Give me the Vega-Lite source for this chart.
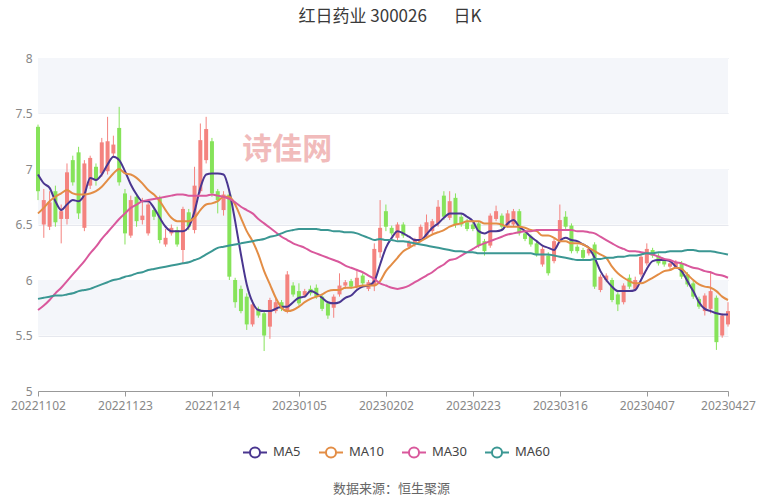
{
  "$schema": "https://vega.github.io/schema/vega-lite/v6.json",
  "width": 690,
  "height": 333,
  "autosize": {"type": "none"},
  "padding": {"left": 38, "top": 58, "right": 54, "bottom": 109},
  "background": "white",
  "title": {
    "text": "红日药业 300026\u00a0\u00a0\u00a0\u00a0\u00a0\u00a0\u00a0日K",
    "fontSize": 17,
    "fontWeight": "normal",
    "color": "#3a3a3a",
    "font": "Noto Sans CJK SC",
    "anchor": "middle",
    "offset": 26,
    "dx": 7
  },
  "config": {
    "view": {"stroke": null},
    "font": "Noto Sans CJK SC",
    "axisX": {"domainColor": "#999999", "tickColor": "#999999", "tickSize": 5, "labelColor": "#888888", "labelFontSize": 12, "labelAngle": 0, "grid": false, "labelPadding": 4, "labelFont": "Noto Sans"},
    "axisY": {"domain": false, "ticks": false, "gridColor": "#e6e8ee", "labelColor": "#888888", "labelFontSize": 12, "labelPadding": 6, "labelFont": "Noto Sans"}
  },
  "datasets": {
    "bands": [{"y1": 7.5, "y2": 8}, {"y1": 6.5, "y2": 7}, {"y1": 5.5, "y2": 6}],
    "wm": [{"t": "诗佳网"}],
    "k": [
      {"d":"20221102","o":7.38,"h":7.40,"l":6.72,"c":6.80,"MA5":6.95,"MA10":6.60,"MA30":5.73,"MA60":5.83},
      {"d":"20221103","o":6.50,"h":6.82,"l":6.38,"c":6.72,"MA5":6.87,"MA10":6.65,"MA30":5.77,"MA60":5.84},
      {"d":"20221104","o":6.48,"h":6.80,"l":6.45,"c":6.70,"MA5":6.83,"MA10":6.71,"MA30":5.82,"MA60":5.85},
      {"d":"20221107","o":6.80,"h":6.85,"l":6.48,"c":6.52,"MA5":6.71,"MA10":6.75,"MA30":5.88,"MA60":5.86},
      {"d":"20221108","o":6.55,"h":6.68,"l":6.33,"c":6.62,"MA5":6.63,"MA10":6.78,"MA30":5.93,"MA60":5.86},
      {"d":"20221109","o":6.55,"h":7.05,"l":6.50,"c":6.97,"MA5":6.68,"MA10":6.81,"MA30":5.99,"MA60":5.87},
      {"d":"20221110","o":7.08,"h":7.12,"l":6.85,"c":6.88,"MA5":6.72,"MA10":6.78,"MA30":6.05,"MA60":5.88},
      {"d":"20221111","o":7.15,"h":7.20,"l":6.55,"c":6.60,"MA5":6.71,"MA10":6.77,"MA30":6.11,"MA60":5.90},
      {"d":"20221114","o":6.47,"h":7.08,"l":6.44,"c":7.05,"MA5":6.77,"MA10":6.77,"MA30":6.17,"MA60":5.91},
      {"d":"20221115","o":6.85,"h":7.12,"l":6.82,"c":7.10,"MA5":6.92,"MA10":6.78,"MA30":6.24,"MA60":5.92},
      {"d":"20221116","o":7.02,"h":7.05,"l":6.85,"c":6.90,"MA5":6.90,"MA10":6.80,"MA30":6.30,"MA60":5.94},
      {"d":"20221117","o":6.96,"h":7.28,"l":6.93,"c":7.24,"MA5":6.95,"MA10":6.84,"MA30":6.37,"MA60":5.96},
      {"d":"20221118","o":6.98,"h":7.47,"l":6.95,"c":7.25,"MA5":7.04,"MA10":6.90,"MA30":6.43,"MA60":5.98},
      {"d":"20221121","o":7.14,"h":7.30,"l":7.10,"c":7.22,"MA5":7.11,"MA10":6.96,"MA30":6.49,"MA60":6.00},
      {"d":"20221122","o":7.37,"h":7.56,"l":6.85,"c":6.88,"MA5":7.08,"MA10":7.00,"MA30":6.55,"MA60":6.01},
      {"d":"20221123","o":6.78,"h":6.82,"l":6.32,"c":6.42,"MA5":6.98,"MA10":6.96,"MA30":6.60,"MA60":6.03},
      {"d":"20221124","o":6.40,"h":6.76,"l":6.38,"c":6.72,"MA5":6.86,"MA10":6.95,"MA30":6.65,"MA60":6.04},
      {"d":"20221125","o":6.75,"h":6.78,"l":6.48,"c":6.53,"MA5":6.77,"MA10":6.92,"MA30":6.68,"MA60":6.06},
      {"d":"20221128","o":6.54,"h":6.74,"l":6.50,"c":6.58,"MA5":6.71,"MA10":6.87,"MA30":6.71,"MA60":6.07},
      {"d":"20221129","o":6.42,"h":6.70,"l":6.40,"c":6.68,"MA5":6.71,"MA10":6.81,"MA30":6.72,"MA60":6.09},
      {"d":"20221130","o":6.63,"h":6.66,"l":6.54,"c":6.57,"MA5":6.65,"MA10":6.77,"MA30":6.73,"MA60":6.10},
      {"d":"20221201","o":6.74,"h":6.76,"l":6.33,"c":6.36,"MA5":6.56,"MA10":6.71,"MA30":6.74,"MA60":6.11},
      {"d":"20221202","o":6.32,"h":6.46,"l":6.30,"c":6.38,"MA5":6.48,"MA10":6.63,"MA30":6.75,"MA60":6.12},
      {"d":"20221205","o":6.42,"h":6.50,"l":6.40,"c":6.47,"MA5":6.44,"MA10":6.56,"MA30":6.76,"MA60":6.13},
      {"d":"20221206","o":6.45,"h":6.48,"l":6.30,"c":6.32,"MA5":6.44,"MA10":6.53,"MA30":6.77,"MA60":6.14},
      {"d":"20221207","o":6.27,"h":6.66,"l":6.15,"c":6.64,"MA5":6.44,"MA10":6.53,"MA30":6.77,"MA60":6.15},
      {"d":"20221208","o":6.61,"h":6.64,"l":6.45,"c":6.48,"MA5":6.48,"MA10":6.53,"MA30":6.76,"MA60":6.16},
      {"d":"20221209","o":6.45,"h":7.02,"l":6.42,"c":6.85,"MA5":6.62,"MA10":6.56,"MA30":6.76,"MA60":6.18},
      {"d":"20221212","o":6.80,"h":7.41,"l":6.78,"c":7.26,"MA5":6.83,"MA10":6.63,"MA30":6.76,"MA60":6.20},
      {"d":"20221213","o":7.08,"h":7.47,"l":7.05,"c":7.36,"MA5":6.95,"MA10":6.68,"MA30":6.76,"MA60":6.23},
      {"d":"20221214","o":7.25,"h":7.28,"l":6.75,"c":6.78,"MA5":6.96,"MA10":6.69,"MA30":6.77,"MA60":6.26},
      {"d":"20221215","o":6.80,"h":6.82,"l":6.60,"c":6.72,"MA5":6.96,"MA10":6.71,"MA30":6.76,"MA60":6.29},
      {"d":"20221216","o":6.63,"h":6.80,"l":6.58,"c":6.77,"MA5":6.95,"MA10":6.75,"MA30":6.75,"MA60":6.30},
      {"d":"20221219","o":6.77,"h":6.80,"l":6.00,"c":6.03,"MA5":6.80,"MA10":6.75,"MA30":6.73,"MA60":6.31},
      {"d":"20221220","o":6.00,"h":6.02,"l":5.75,"c":5.80,"MA5":6.53,"MA10":6.68,"MA30":6.70,"MA60":6.32},
      {"d":"20221221","o":5.92,"h":5.95,"l":5.70,"c":5.72,"MA5":6.23,"MA10":6.56,"MA30":6.66,"MA60":6.33},
      {"d":"20221222","o":5.85,"h":5.88,"l":5.55,"c":5.60,"MA5":5.96,"MA10":6.44,"MA30":6.63,"MA60":6.34},
      {"d":"20221223","o":5.60,"h":5.82,"l":5.58,"c":5.78,"MA5":5.80,"MA10":6.35,"MA30":6.60,"MA60":6.35},
      {"d":"20221226","o":5.74,"h":5.76,"l":5.66,"c":5.68,"MA5":5.73,"MA10":6.23,"MA30":6.55,"MA60":6.36},
      {"d":"20221227","o":5.70,"h":5.72,"l":5.36,"c":5.50,"MA5":5.72,"MA10":6.08,"MA30":6.51,"MA60":6.37},
      {"d":"20221228","o":5.58,"h":5.84,"l":5.47,"c":5.82,"MA5":5.72,"MA10":5.96,"MA30":6.47,"MA60":6.39},
      {"d":"20221229","o":5.72,"h":5.83,"l":5.70,"c":5.80,"MA5":5.74,"MA10":5.84,"MA30":6.43,"MA60":6.40},
      {"d":"20221230","o":5.80,"h":5.82,"l":5.72,"c":5.74,"MA5":5.76,"MA10":5.75,"MA30":6.39,"MA60":6.42},
      {"d":"20230103","o":5.72,"h":6.08,"l":5.70,"c":6.05,"MA5":5.76,"MA10":5.72,"MA30":6.36,"MA60":6.44},
      {"d":"20230104","o":5.95,"h":5.98,"l":5.85,"c":5.87,"MA5":5.80,"MA10":5.73,"MA30":6.33,"MA60":6.45},
      {"d":"20230105","o":5.90,"h":5.97,"l":5.77,"c":5.79,"MA5":5.84,"MA10":5.76,"MA30":6.31,"MA60":6.46},
      {"d":"20230106","o":5.86,"h":5.92,"l":5.84,"c":5.90,"MA5":5.85,"MA10":5.80,"MA30":6.29,"MA60":6.46},
      {"d":"20230109","o":5.92,"h":5.95,"l":5.86,"c":5.88,"MA5":5.90,"MA10":5.83,"MA30":6.26,"MA60":6.46},
      {"d":"20230110","o":5.93,"h":5.96,"l":5.83,"c":5.85,"MA5":5.88,"MA10":5.85,"MA30":6.24,"MA60":6.46},
      {"d":"20230111","o":5.85,"h":5.87,"l":5.72,"c":5.74,"MA5":5.84,"MA10":5.87,"MA30":6.22,"MA60":6.45},
      {"d":"20230112","o":5.79,"h":5.80,"l":5.65,"c":5.68,"MA5":5.80,"MA10":5.90,"MA30":6.20,"MA60":6.45},
      {"d":"20230113","o":5.75,"h":5.87,"l":5.66,"c":5.85,"MA5":5.79,"MA10":5.91,"MA30":6.18,"MA60":6.44},
      {"d":"20230116","o":5.87,"h":6.06,"l":5.85,"c":5.95,"MA5":5.80,"MA10":5.91,"MA30":6.16,"MA60":6.44},
      {"d":"20230117","o":5.95,"h":6.00,"l":5.92,"c":5.98,"MA5":5.84,"MA10":5.93,"MA30":6.13,"MA60":6.43},
      {"d":"20230118","o":5.99,"h":6.01,"l":5.92,"c":5.94,"MA5":5.86,"MA10":5.93,"MA30":6.11,"MA60":6.43},
      {"d":"20230119","o":5.94,"h":6.10,"l":5.92,"c":6.02,"MA5":5.91,"MA10":5.94,"MA30":6.09,"MA60":6.42},
      {"d":"20230120","o":6.04,"h":6.06,"l":5.95,"c":5.97,"MA5":5.94,"MA10":5.95,"MA30":6.07,"MA60":6.40},
      {"d":"20230130","o":5.92,"h":6.00,"l":5.90,"c":5.98,"MA5":5.95,"MA10":5.95,"MA30":6.04,"MA60":6.38},
      {"d":"20230131","o":5.95,"h":6.33,"l":5.90,"c":6.28,"MA5":5.99,"MA10":5.95,"MA30":6.01,"MA60":6.36},
      {"d":"20230201","o":6.25,"h":6.72,"l":6.20,"c":6.47,"MA5":6.14,"MA10":5.99,"MA30":5.97,"MA60":6.37},
      {"d":"20230202","o":6.62,"h":6.68,"l":6.44,"c":6.48,"MA5":6.29,"MA10":6.08,"MA30":5.95,"MA60":6.36},
      {"d":"20230203","o":6.47,"h":6.49,"l":6.40,"c":6.42,"MA5":6.38,"MA10":6.14,"MA30":5.93,"MA60":6.36},
      {"d":"20230206","o":6.38,"h":6.52,"l":6.36,"c":6.50,"MA5":6.44,"MA10":6.20,"MA30":5.92,"MA60":6.35},
      {"d":"20230207","o":6.50,"h":6.52,"l":6.38,"c":6.40,"MA5":6.42,"MA10":6.26,"MA30":5.93,"MA60":6.35},
      {"d":"20230208","o":6.30,"h":6.36,"l":6.28,"c":6.34,"MA5":6.39,"MA10":6.29,"MA30":5.95,"MA60":6.34},
      {"d":"20230209","o":6.33,"h":6.38,"l":6.30,"c":6.36,"MA5":6.36,"MA10":6.32,"MA30":5.98,"MA60":6.33},
      {"d":"20230210","o":6.36,"h":6.50,"l":6.34,"c":6.48,"MA5":6.36,"MA10":6.35,"MA30":6.01,"MA60":6.32},
      {"d":"20230213","o":6.40,"h":6.59,"l":6.38,"c":6.52,"MA5":6.41,"MA10":6.38,"MA30":6.04,"MA60":6.31},
      {"d":"20230214","o":6.44,"h":6.55,"l":6.42,"c":6.53,"MA5":6.47,"MA10":6.41,"MA30":6.07,"MA60":6.30},
      {"d":"20230215","o":6.51,"h":6.72,"l":6.48,"c":6.66,"MA5":6.51,"MA10":6.43,"MA30":6.11,"MA60":6.29},
      {"d":"20230216","o":6.76,"h":6.80,"l":6.54,"c":6.57,"MA5":6.56,"MA10":6.45,"MA30":6.14,"MA60":6.28},
      {"d":"20230217","o":6.56,"h":6.80,"l":6.54,"c":6.71,"MA5":6.60,"MA10":6.48,"MA30":6.18,"MA60":6.27},
      {"d":"20230220","o":6.74,"h":6.78,"l":6.47,"c":6.50,"MA5":6.60,"MA10":6.50,"MA30":6.19,"MA60":6.26},
      {"d":"20230221","o":6.57,"h":6.60,"l":6.48,"c":6.50,"MA5":6.60,"MA10":6.51,"MA30":6.22,"MA60":6.26},
      {"d":"20230222","o":6.52,"h":6.55,"l":6.44,"c":6.46,"MA5":6.57,"MA10":6.53,"MA30":6.25,"MA60":6.25},
      {"d":"20230223","o":6.50,"h":6.52,"l":6.44,"c":6.46,"MA5":6.53,"MA10":6.53,"MA30":6.28,"MA60":6.25},
      {"d":"20230224","o":6.51,"h":6.53,"l":6.29,"c":6.31,"MA5":6.44,"MA10":6.53,"MA30":6.31,"MA60":6.24},
      {"d":"20230227","o":6.35,"h":6.37,"l":6.22,"c":6.26,"MA5":6.42,"MA10":6.51,"MA30":6.33,"MA60":6.24},
      {"d":"20230228","o":6.31,"h":6.60,"l":6.29,"c":6.58,"MA5":6.44,"MA10":6.51,"MA30":6.35,"MA60":6.24},
      {"d":"20230301","o":6.55,"h":6.67,"l":6.53,"c":6.62,"MA5":6.44,"MA10":6.51,"MA30":6.37,"MA60":6.24},
      {"d":"20230302","o":6.58,"h":6.60,"l":6.46,"c":6.48,"MA5":6.45,"MA10":6.50,"MA30":6.39,"MA60":6.24},
      {"d":"20230303","o":6.49,"h":6.63,"l":6.47,"c":6.60,"MA5":6.51,"MA10":6.48,"MA30":6.41,"MA60":6.24},
      {"d":"20230306","o":6.50,"h":6.64,"l":6.48,"c":6.62,"MA5":6.54,"MA10":6.48,"MA30":6.42,"MA60":6.24},
      {"d":"20230307","o":6.62,"h":6.64,"l":6.40,"c":6.42,"MA5":6.48,"MA10":6.48,"MA30":6.43,"MA60":6.24},
      {"d":"20230308","o":6.42,"h":6.44,"l":6.35,"c":6.37,"MA5":6.44,"MA10":6.47,"MA30":6.44,"MA60":6.24},
      {"d":"20230309","o":6.39,"h":6.41,"l":6.30,"c":6.32,"MA5":6.39,"MA10":6.45,"MA30":6.44,"MA60":6.24},
      {"d":"20230310","o":6.33,"h":6.35,"l":6.21,"c":6.23,"MA5":6.35,"MA10":6.44,"MA30":6.45,"MA60":6.23},
      {"d":"20230313","o":6.14,"h":6.30,"l":6.12,"c":6.28,"MA5":6.31,"MA10":6.40,"MA30":6.45,"MA60":6.23},
      {"d":"20230314","o":6.22,"h":6.25,"l":6.04,"c":6.06,"MA5":6.29,"MA10":6.40,"MA30":6.45,"MA60":6.23},
      {"d":"20230315","o":6.17,"h":6.37,"l":6.15,"c":6.35,"MA5":6.27,"MA10":6.38,"MA30":6.45,"MA60":6.22},
      {"d":"20230316","o":6.35,"h":6.68,"l":6.33,"c":6.54,"MA5":6.35,"MA10":6.35,"MA30":6.45,"MA60":6.21},
      {"d":"20230317","o":6.57,"h":6.62,"l":6.46,"c":6.48,"MA5":6.38,"MA10":6.35,"MA30":6.45,"MA60":6.20},
      {"d":"20230320","o":6.49,"h":6.51,"l":6.24,"c":6.26,"MA5":6.36,"MA10":6.33,"MA30":6.45,"MA60":6.19},
      {"d":"20230321","o":6.30,"h":6.32,"l":6.24,"c":6.26,"MA5":6.35,"MA10":6.33,"MA30":6.44,"MA60":6.18},
      {"d":"20230322","o":6.27,"h":6.29,"l":6.18,"c":6.20,"MA5":6.32,"MA10":6.32,"MA30":6.44,"MA60":6.18},
      {"d":"20230323","o":6.24,"h":6.30,"l":6.22,"c":6.28,"MA5":6.29,"MA10":6.29,"MA30":6.43,"MA60":6.18},
      {"d":"20230324","o":6.32,"h":6.34,"l":5.92,"c":5.94,"MA5":6.20,"MA10":6.26,"MA30":6.42,"MA60":6.19},
      {"d":"20230327","o":5.91,"h":6.05,"l":5.89,"c":6.03,"MA5":6.08,"MA10":6.23,"MA30":6.39,"MA60":6.19},
      {"d":"20230328","o":6.00,"h":6.06,"l":5.98,"c":6.04,"MA5":6.00,"MA10":6.20,"MA30":6.36,"MA60":6.20},
      {"d":"20230329","o":6.00,"h":6.02,"l":5.80,"c":5.82,"MA5":5.94,"MA10":6.12,"MA30":6.33,"MA60":6.20},
      {"d":"20230330","o":5.87,"h":5.89,"l":5.72,"c":5.78,"MA5":5.90,"MA10":6.06,"MA30":6.30,"MA60":6.21},
      {"d":"20230331","o":5.80,"h":5.97,"l":5.78,"c":5.95,"MA5":5.90,"MA10":6.02,"MA30":6.28,"MA60":6.21},
      {"d":"20230403","o":6.02,"h":6.05,"l":5.92,"c":5.94,"MA5":5.90,"MA10":5.99,"MA30":6.26,"MA60":6.22},
      {"d":"20230404","o":5.92,"h":6.03,"l":5.90,"c":6.00,"MA5":5.91,"MA10":5.97,"MA30":6.26,"MA60":6.22},
      {"d":"20230406","o":6.05,"h":6.23,"l":6.03,"c":6.21,"MA5":6.00,"MA10":5.97,"MA30":6.25,"MA60":6.23},
      {"d":"20230407","o":6.15,"h":6.33,"l":6.13,"c":6.28,"MA5":6.10,"MA10":5.99,"MA30":6.24,"MA60":6.24},
      {"d":"20230410","o":6.27,"h":6.29,"l":6.20,"c":6.22,"MA5":6.17,"MA10":6.02,"MA30":6.23,"MA60":6.24},
      {"d":"20230411","o":6.22,"h":6.24,"l":6.13,"c":6.15,"MA5":6.18,"MA10":6.05,"MA30":6.21,"MA60":6.25},
      {"d":"20230412","o":6.17,"h":6.19,"l":6.12,"c":6.14,"MA5":6.18,"MA10":6.08,"MA30":6.19,"MA60":6.25},
      {"d":"20230413","o":6.12,"h":6.17,"l":6.10,"c":6.15,"MA5":6.17,"MA10":6.09,"MA30":6.18,"MA60":6.26},
      {"d":"20230414","o":6.12,"h":6.18,"l":6.10,"c":6.16,"MA5":6.12,"MA10":6.11,"MA30":6.16,"MA60":6.26},
      {"d":"20230417","o":6.15,"h":6.17,"l":6.01,"c":6.03,"MA5":6.08,"MA10":6.10,"MA30":6.15,"MA60":6.26},
      {"d":"20230418","o":6.05,"h":6.07,"l":5.94,"c":5.96,"MA5":5.99,"MA10":6.05,"MA30":6.13,"MA60":6.27},
      {"d":"20230419","o":5.97,"h":5.99,"l":5.83,"c":5.85,"MA5":5.90,"MA10":6.00,"MA30":6.11,"MA60":6.27},
      {"d":"20230420","o":5.83,"h":5.85,"l":5.74,"c":5.76,"MA5":5.80,"MA10":5.96,"MA30":6.10,"MA60":6.26},
      {"d":"20230421","o":5.72,"h":5.88,"l":5.68,"c":5.86,"MA5":5.74,"MA10":5.94,"MA30":6.08,"MA60":6.26},
      {"d":"20230424","o":5.74,"h":6.08,"l":5.70,"c":5.90,"MA5":5.72,"MA10":5.93,"MA30":6.07,"MA60":6.26},
      {"d":"20230425","o":5.84,"h":5.86,"l":5.37,"c":5.44,"MA5":5.70,"MA10":5.90,"MA30":6.05,"MA60":6.25},
      {"d":"20230426","o":5.50,"h":5.70,"l":5.48,"c":5.68,"MA5":5.69,"MA10":5.85,"MA30":6.04,"MA60":6.24},
      {"d":"20230427","o":5.60,"h":5.80,"l":5.58,"c":5.72,"MA5":5.69,"MA10":5.82,"MA30":6.02,"MA60":6.23}
    ]
  },
  "layer": [
    {
      "data": {"name": "bands"},
      "mark": {"type": "rect", "color": "#f4f6fa"},
      "encoding": {
        "y": {"field": "y1", "type": "quantitative", "scale": {"domain": [5, 8], "nice": false, "zero": false}, "axis": {"values": [5, 5.5, 6, 6.5, 7, 7.5, 8], "format": "~f", "title": null, "grid": true}},
        "y2": {"field": "y2"}
      }
    },
    {
      "data": {"name": "k"},
      "encoding": {
        "x": {"field": "d", "type": "ordinal", "scale": {"type": "point", "padding": 0},
          "axis": {"values": ["20221102","20221123","20221214","20230105","20230202","20230223","20230316","20230407","20230427"],
            "title": "数据来源：恒生聚源", "titleFontSize": 13, "titleFontWeight": "normal", "titleColor": "#666666", "titlePadding": 71, "titleX": 353, "titleFont": "Noto Sans CJK SC"}}
      },
      "layer": [
        {
          "mark": {"type": "rule", "strokeWidth": 1},
          "encoding": {
            "y": {"field": "l", "type": "quantitative", "scale": {"domain": [5, 8], "nice": false, "zero": false}, "axis": {"values": [5, 5.5, 6, 6.5, 7, 7.5, 8], "format": "~f", "title": null, "grid": true}},
            "y2": {"field": "h"},
            "color": {"condition": {"test": "datum.c >= datum.o", "value": "#f4837f"}, "value": "#86e35a"}
          }
        },
        {
          "mark": {"type": "bar", "size": 4},
          "encoding": {
            "y": {"field": "o", "type": "quantitative", "scale": {"domain": [5, 8], "nice": false, "zero": false}, "axis": {"values": [5, 5.5, 6, 6.5, 7, 7.5, 8], "format": "~f", "title": null, "grid": true}},
            "y2": {"field": "c"},
            "color": {"condition": {"test": "datum.c >= datum.o", "value": "#f4837f"}, "value": "#86e35a"}
          }
        },
        {
          "transform": [{"fold": ["MA5", "MA10", "MA30", "MA60"], "as": ["s", "v"]}],
          "mark": {"type": "line", "interpolate": "monotone", "strokeWidth": 2},
          "encoding": {
            "y": {"field": "v", "type": "quantitative", "scale": {"domain": [5, 8], "nice": false, "zero": false}, "axis": {"values": [5, 5.5, 6, 6.5, 7, 7.5, 8], "format": "~f", "title": null, "grid": true}},
            "color": {
              "field": "s", "type": "nominal",
              "scale": {"domain": ["MA5", "MA10", "MA30", "MA60"], "range": ["#4a3690", "#e38d45", "#d9589c", "#3b9793"]},
              "legend": {
                "title": null, "orient": "none", "direction": "horizontal", "legendX": 204, "legendY": 381,
                "symbolType": "M-1,0L-0.42,0M0.42,0L1,0M-0.42,0A0.42,0.42 0 1,0 0.42,0A0.42,0.42 0 1,0 -0.42,0Z",
                "symbolSize": 576, "symbolStrokeWidth": 2, "symbolFillColor": "white",
                "labelFontSize": 13, "labelColor": "#444444", "labelFont": "Noto Sans", "columnPadding": 14, "labelOffset": 5
              }
            }
          }
        }
      ]
    },
    {
      "data": {"name": "wm"},
      "mark": {"type": "text", "fontSize": 30, "fontWeight": "bold", "color": "#eda5a5", "opacity": 0.75, "font": "Noto Sans CJK SC"},
      "encoding": {
        "text": {"field": "t"},
        "x": {"datum": "20230103", "type": "ordinal"},
        "y": {"datum": 7.17, "type": "quantitative"}
      }
    }
  ]
}
